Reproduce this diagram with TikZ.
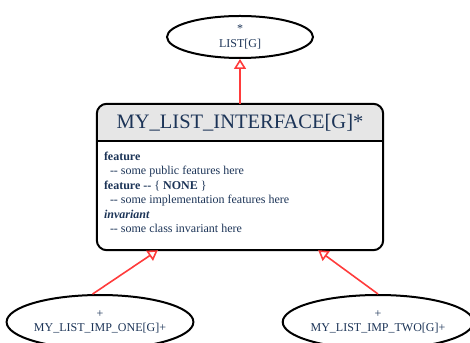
\documentclass[tikz,border=0pt]{standalone}
\usepackage{fontspec}
\setmainfont{Liberation Serif}
\usetikzlibrary{arrows.meta,shapes.geometric,positioning}
\definecolor{navy}{HTML}{1C3457}
\definecolor{inhred}{HTML}{FF3B3B}
\definecolor{headgray}{HTML}{E6E6E6}
\newcommand{\dd}{\mbox{-}\mbox{-}}

\begin{document}
\begin{tikzpicture}[x=1pt,y=1pt,
    cls/.style={ellipse,draw,line width=2pt,text=navy,align=center,font=\fontsize{12}{13}\selectfont,inner sep=0pt},
    inherit/.style={draw=inhred,line width=1.6pt,-{Triangle[open,length=10pt,width=12pt]}}]
    \useasboundingbox (0,0) rectangle (470,342);
    % classes
    \node[cls,minimum width=146pt,minimum height=42pt] (list) at (240,305) {*\\[2pt]LIST[G]};
    \node[minimum width=286pt,minimum height=146pt,inner sep=0pt] (iface) at (240,165) {};
    \node[cls,minimum width=184pt,minimum height=54pt] (lone) at (100,20) {+\\[1pt]MY\_LIST\_IMP\_ONE[G]+};
    \node[cls,minimum width=182pt,minimum height=54pt] (rtwo) at (378,20) {+\\[1pt]MY\_LIST\_IMP\_TWO[G]+};
    % header of the deferred class
    \begin{scope}
        \clip[rounded corners=10pt] (iface.south west) rectangle (iface.north east);
        \fill[headgray] (iface.north west) rectangle ([yshift=-37pt]iface.north east);
    \end{scope}
    \draw[line width=2pt] ([yshift=-37pt]iface.north west) -- ([yshift=-37pt]iface.north east);
    \draw[line width=2pt,rounded corners=10pt] (iface.south west) rectangle (iface.north east);
    \node[text=navy,font=\fontsize{20.5}{24}\selectfont] (title) at ([yshift=-19pt]iface.north) {MY\_LIST\_INTERFACE[G]*};
    \node[anchor=north west,align=left,text=navy,font=\fontsize{12}{14.4}\selectfont,inner sep=0pt] (body)
        at ([xshift=7pt,yshift=-48pt]iface.north west) {%
        \textbf{feature}\\
        \hspace{6pt}\dd{} some public features here\\
        \textbf{feature \dd{}} \{ \textbf{NONE} \}\\
        \hspace{6pt}\dd{} some implementation features here\\
        \textbf{\textit{invariant}}\\
        \hspace{6pt}\dd{} some class invariant here};
    % inheritance
    \draw[inherit] (iface.north) -- (list.south);
    \draw[inherit] (lone.105) -- ([xshift=61pt]iface.south west);
    \draw[inherit] (rtwo.north) -- ([xshift=-65pt]iface.south east);
\end{tikzpicture}
\end{document}
